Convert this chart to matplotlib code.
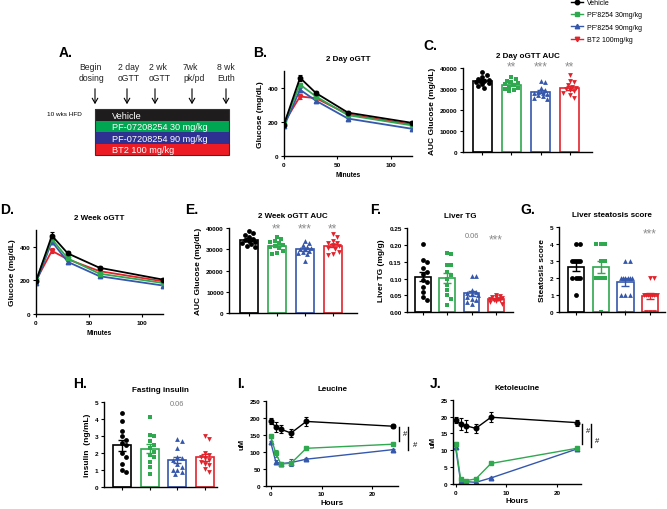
import matplotlib
matplotlib.use('Agg')
import matplotlib.pyplot as plt
import numpy as np
from matplotlib.lines import Line2D
from matplotlib.patches import Rectangle

plt.rcParams['font.family'] = ['Liberation Sans', 'DejaVu Sans']
plt.rcParams['font.weight'] = 'bold'
plt.rcParams['axes.labelweight'] = 'bold'
plt.rcParams['axes.titleweight'] = 'bold'

# ---------------- data ----------------
GROUPS = ["Vehicle", "PF'8254 30mg/kg", "PF'8254 90mg/kg", "BT2 100mg/kg"]
SCHEME_GROUPS = ["Vehicle", "PF-07208254 30 mg/kg", "PF-07208254 90 mg/kg", "BT2 100 mg/kg"]
TIMELINE = ["Begin\ndosing", "2 day\noGTT", "2 wk\noGTT", "7wk\npk/pd", "8 wk\nEuth"]

GTT_T = [0, 15, 30, 60, 120]
# 2 day oGTT
B_veh = [185, 460, 370, 255, 195]
B_g30 = [190, 420, 350, 240, 180]
B_g90 = [175, 390, 325, 220, 160]
B_bt2 = [195, 350, 340, 245, 185]
B_err_veh = [8, 18, 12, 8, 9]
B_err_g30 = [6, 12, 10, 6, 6]
B_err_g90 = [6, 12, 8, 6, 6]
B_err_bt2 = [6, 12, 10, 6, 6]
# 2 week oGTT
D_veh = [195, 465, 360, 275, 205]
D_g30 = [200, 445, 330, 240, 185]
D_g90 = [185, 430, 310, 225, 170]
D_bt2 = [200, 375, 325, 255, 195]
D_err_veh = [8, 22, 12, 8, 8]
D_err_g30 = [6, 14, 10, 6, 6]
D_err_g90 = [6, 14, 8, 6, 6]
D_err_bt2 = [6, 14, 10, 6, 6]

# 2 day AUC
C_veh = [38000, 36500, 35500, 34500, 34000, 34000, 33500, 33000, 32500, 31500, 30500, 35000]
C_g30 = [35500, 35000, 34000, 33500, 33000, 32500, 32000, 31000, 30500, 30000, 29000, 29500]
C_g90 = [34000, 33500, 30500, 29500, 28500, 28000, 27500, 27000, 26500, 26000, 25500, 28000]
C_bt2 = [36500, 34000, 33500, 32000, 31000, 30500, 30000, 29500, 29000, 28000, 27000, 26000]
C_sig = ["", "**", "***", "**"]
# 2 week AUC
E_veh = [38500, 38000, 37000, 36000, 35000, 34500, 34000, 33500, 33000, 32500, 31500, 31000]
E_g30 = [36000, 35000, 34000, 33500, 33000, 32000, 31500, 31000, 30500, 29500, 28500, 28000]
E_g90 = [34000, 33000, 32000, 31000, 30500, 30000, 30000, 29500, 29000, 28500, 28000, 24500]
E_bt2 = [37500, 36000, 34000, 33000, 33000, 32000, 31500, 30500, 30000, 29000, 28000, 27500]
E_sig = ["", "**", "***", "**"]
# Liver TG
F_veh = [0.202, 0.155, 0.150, 0.130, 0.120, 0.115, 0.095, 0.090, 0.075, 0.060, 0.045, 0.035]
F_g30 = [0.175, 0.172, 0.140, 0.140, 0.120, 0.110, 0.100, 0.080, 0.065, 0.050, 0.040, 0.022]
F_g90 = [0.108, 0.107, 0.065, 0.060, 0.058, 0.055, 0.050, 0.045, 0.040, 0.035, 0.030, 0.025]
F_bt2 = [0.052, 0.048, 0.045, 0.044, 0.042, 0.040, 0.038, 0.036, 0.035, 0.033, 0.030, 0.025]
F_sig = ["", "", "0.06", "***"]
# Steatosis
G_veh = [4, 4, 3, 3, 3, 3, 3, 2, 2, 2, 2, 1]
G_g30 = [4, 4, 4, 4, 3, 3, 2, 2, 2, 2, 2, 0]
G_g90 = [3, 3, 2, 2, 2, 2, 2, 2, 1, 1, 1, 0]
G_bt2 = [2, 2, 1, 1, 1, 1, 1, 1, 1, 0, 0, 0]
G_sig = ["", "", "", "***"]
# Fasting insulin
H_veh = [4.4, 3.9, 3.3, 3.0, 2.8, 2.6, 2.5, 2.0, 1.8, 1.4, 1.0, 0.9]
H_g30 = [4.15, 3.1, 3.0, 2.7, 2.5, 2.3, 2.1, 1.9, 1.8, 1.5, 1.2, 0.8]
H_g90 = [2.85, 2.7, 2.3, 1.8, 1.7, 1.6, 1.4, 1.2, 1.0, 1.0, 0.9, 0.8]
H_bt2 = [3.0, 2.85, 2.0, 1.9, 1.8, 1.7, 1.6, 1.5, 1.4, 1.3, 1.1, 0.9]
H_sig = ["", "", "0.06", ""]

PK_T = [0, 1, 2, 4, 7, 24]
I_veh = [190, 172, 166, 155, 189, 175]
I_g30 = [145, 95, 64, 66, 110, 122]
I_g90 = [128, 70, 65, 68, 78, 106]
I_err_veh = [8, 14, 12, 12, 12, 6]
I_err_g30 = [4, 10, 4, 4, 4, 3]
I_err_g90 = [4, 6, 3, 10, 3, 3]
J_veh = [19.0, 17.8, 17.3, 16.5, 19.8, 18.2]
J_g30 = [11.8, 1.5, 1.0, 1.5, 6.1, 10.6]
J_g90 = [11.0, 0.8, 0.7, 0.5, 1.8, 10.4]
J_err_veh = [1.0, 1.8, 1.8, 1.4, 1.5, 0.9]
J_err_g30 = [0.6, 0.3, 0.3, 0.3, 0.3, 0.4]
J_err_g90 = [0.4, 0.3, 0.3, 0.3, 0.3, 0.3]

COLORS = ['#000000', '#2fa84f', '#3558ad', '#e3232c']
SCHEME_COLORS = ['#1e1c1d', '#00a651', '#2e3192', '#ed1c24']
MARKERS = ['o', 's', '^', 'v']

# ---------------- figure ----------------
W, H = 667, 510
fig = plt.figure(figsize=(W / 100, H / 100), dpi=100)

ov = fig.add_axes([0, 0, 1, 1])
ov.set_xlim(0, W)
ov.set_ylim(H, 0)
ov.axis('off')


def px_axes(x0, x1, ytop, ybot):
    return fig.add_axes([x0 / W, 1 - ybot / H, (x1 - x0) / W, (ybot - ytop) / H])


def style(ax):
    for s in ['top', 'right']:
        ax.spines[s].set_visible(False)
    for s in ['left', 'bottom']:
        ax.spines[s].set_linewidth(1.0)
    ax.tick_params(length=2.5, width=0.8, labelsize=4.6, pad=1.5)


def swarm(ax, x0, vals, d_px, max_off):
    tr = ax.transData
    sx = tr.transform((1, 0))[0] - tr.transform((0, 0))[0]
    max_px = max_off * sx
    order = np.argsort(vals)[::-1]
    placed = []
    offs = np.zeros(len(vals))
    step = d_px * 0.5
    cands = [0.0]
    k = 1
    while k * step <= max_px:
        cands += [k * step, -k * step]
        k += 1
    for idx in order:
        ypx = tr.transform((x0, vals[idx]))[1]
        best, bestd = 0.0, -1
        for cand in cands:
            dmin = min([np.hypot(cand - px, ypx - py) for px, py in placed] + [1e9])
            if dmin >= d_px:
                best = cand
                break
            if dmin > bestd:
                best, bestd = cand, dmin
        placed.append((best, ypx))
        offs[idx] = best / sx
    return offs


def bar_panel(ax, groups, ylim, yticks, xlim, title, ylabel, sig, sig_y, fmt=None):
    style(ax)
    ax.set_xlim(*xlim)
    ax.set_ylim(*ylim)
    for i, (vals, c, m) in enumerate(zip(groups, COLORS, MARKERS)):
        v = np.array(vals, dtype=float)
        mean = v.mean()
        sem = v.std(ddof=1) / np.sqrt(len(v))
        ax.bar(i, mean, width=0.65, facecolor='white', edgecolor=c, linewidth=1.2, zorder=1)
        offs = swarm(ax, i, v, 4.3, 0.27)
        ax.scatter(i + offs, v, marker=m, s=12, color=c, zorder=2, linewidths=0)
        ax.errorbar(i, mean, yerr=sem, color=c, capsize=2.6, elinewidth=1.0, capthick=1.0, zorder=3)
        if sig[i]:
            if sig[i][0].isdigit():
                ax.text(i, sig_y[0], sig[i], ha='center', va='center', color='#7a7a7a',
                        fontsize=5.3, fontweight='normal', clip_on=False)
            else:
                ax.text(i, sig_y[1], sig[i], ha='center', va='baseline', color='#8c8c8c',
                        fontsize=8.5, fontweight='normal', clip_on=False)
    ax.set_xticks(range(len(groups)))
    ax.set_xticklabels([])
    ax.set_yticks(yticks)
    if fmt:
        ax.set_yticklabels([fmt.format(t) for t in yticks])
    ax.set_title(title, fontsize=5.8, pad=8)
    ax.set_ylabel(ylabel, fontsize=6, labelpad=3)


def gtt_panel(ax, series, errs, title):
    style(ax)
    for k in [3, 2, 1, 0]:
        ax.errorbar(GTT_T, series[k], yerr=errs[k], color=COLORS[k], marker=MARKERS[k], ms=3.2,
                    lw=1.3, capsize=1.5, elinewidth=0.8, capthick=0.8)
    ax.set_xlim(0, 120)
    ax.set_ylim(0, 500)
    ax.set_yticks([0, 200, 400])
    ax.set_xticks([0, 50, 100])
    ax.set_title(title, fontsize=5.8, pad=8)
    ax.set_ylabel('Glucose (mg/dL)', fontsize=6, labelpad=3)
    ax.set_xlabel('Minutes', fontsize=4.8, labelpad=3)


def pk_panel(ax, series, errs, title, ylim, yticks, xlim):
    style(ax)
    for k in [2, 1, 0]:
        ax.errorbar(PK_T, series[k], yerr=errs[k], color=COLORS[k], marker=MARKERS[k], ms=3.3,
                    lw=1.0, capsize=1.5, elinewidth=0.8, capthick=0.8)
    ax.set_xlim(*xlim)
    ax.set_ylim(*ylim)
    ax.set_yticks(yticks)
    ax.set_xticks([0, 10, 20])
    ax.set_title(title, fontsize=5.8, pad=8)
    ax.set_ylabel('uM', fontsize=5.5, labelpad=3)
    ax.set_xlabel('Hours', fontsize=5.8, labelpad=2)


# ---------- Panel A schematic ----------
arrow_x = [95, 127, 155, 192, 226]
text_x = [79, 118, 149, 183, 217]
for lab, tx, ax_ in zip(TIMELINE, text_x, arrow_x):
    ov.text(tx, 63, lab, ha='left', va='top', fontsize=6.2, fontweight='normal',
            linespacing=1.3, color='#222222')
    ov.annotate('', xy=(ax_, 108), xytext=(ax_, 87),
                arrowprops=dict(arrowstyle='->,head_length=0.35,head_width=0.2', lw=0.8, color='black'))
row_h = 11.5
for i, (lab, c) in enumerate(zip(SCHEME_GROUPS, SCHEME_COLORS)):
    y0 = 110 + i * row_h
    ov.add_patch(Rectangle((95, y0), 134, row_h, facecolor=c, edgecolor='none'))
    ov.text(111.5, y0 + row_h / 2 + 0.3, lab, ha='left', va='center', color='white',
            fontsize=6.6, fontweight='normal')
ov.add_patch(Rectangle((95, 110), 134, 4 * row_h, facecolor='none', edgecolor='#333333', lw=0.8))
ov.text(47, 114.5, '10 wks HFD', ha='left', va='center', fontsize=4.6, fontweight='normal')

# ---------- panel letters ----------
for lab, x, y in [('A.', 59, 46), ('B.', 253, 46), ('C.', 423, 39), ('D.', 0, 203), ('E.', 185, 203),
                  ('F.', 370, 203), ('G.', 520, 203), ('H.', 73, 377), ('I.', 237, 377), ('J.', 430, 377)]:
    fig.text(x / W, 1 - y / H, lab, fontsize=10, fontweight='bold', ha='left', va='top')

# ---------- B ----------
axB = px_axes(284, 412, 72, 157)
gtt_panel(axB, [B_veh, B_g30, B_g90, B_bt2], [B_err_veh, B_err_g30, B_err_g90, B_err_bt2], '2 Day oGTT')

# ---------- C ----------
axC = px_axes(463, 592, 69, 153.3)
bar_panel(axC, [C_veh, C_g30, C_g90, C_bt2], (0, 40000), [0, 10000, 20000, 30000, 40000],
          (-0.66, 3.76), '2 Day oGTT AUC', 'AUC Glucose (mg/dL)', C_sig, (0, 39400))

# ---------- D ----------
axD = px_axes(36, 163, 230.7, 315.3)
gtt_panel(axD, [D_veh, D_g30, D_g90, D_bt2], [D_err_veh, D_err_g30, D_err_g90, D_err_bt2], '2 Week oGTT')

# ---------- E ----------
axE = px_axes(229.3, 356.7, 229.3, 314)
bar_panel(axE, [E_veh, E_g30, E_g90, E_bt2], (0, 40000), [0, 10000, 20000, 30000, 40000],
          (-0.7, 3.86), '2 Week oGTT AUC', 'AUC Glucose (mg/dL)', E_sig, (0, 38700))

# ---------- F ----------
axF = px_axes(407.3, 513.3, 229, 313.3)
bar_panel(axF, [F_veh, F_g30, F_g90, F_bt2], (0, 0.25), [0, 0.05, 0.10, 0.15, 0.20, 0.25],
          (-0.63, 3.71), 'Liver TG', 'Liver TG (mg/g)', F_sig, (0.229, 0.208), fmt='{:.2f}')

# ---------- G ----------
axG = px_axes(559.3, 665, 228.3, 312.7)
bar_panel(axG, [G_veh, G_g30, G_g90, G_bt2], (0, 5), [0, 1, 2, 3, 4, 5],
          (-0.68, 3.6), 'Liver steatosis score', 'Steatosis score', G_sig, (4.9, 4.48))

# ---------- H ----------
axH = px_axes(104, 217, 403.3, 488.3)
bar_panel(axH, [H_veh, H_g30, H_g90, H_bt2], (0, 5), [0, 1, 2, 3, 4, 5],
          (-0.64, 3.43), 'Fasting insulin', 'insulin  (ng/mL)', H_sig, (4.9, 4.5))

# ---------- I ----------
axI = px_axes(266, 398.3, 401.7, 486.7)
pk_panel(axI, [I_veh, I_g30, I_g90], [I_err_veh, I_err_g30, I_err_g90], 'Leucine',
         (0, 250), [0, 50, 100, 150, 200, 250], (-0.93, 25.1))
axI.plot([25.2, 25.2], [172, 132], color='black', lw=1.0, clip_on=False)
axI.text(26.1, 153, '#', fontsize=5.5, fontweight='normal', ha='left', va='center', clip_on=False)
axI.plot([27.1, 27.1], [172, 106], color='black', lw=1.0, clip_on=False)
axI.text(28.0, 122, '#', fontsize=5.5, fontweight='normal', ha='left', va='center', clip_on=False)

# ---------- J ----------
axJ = px_axes(453, 580.7, 400.7, 485)
pk_panel(axJ, [J_veh, J_g30, J_g90], [J_err_veh, J_err_g30, J_err_g90], 'Ketoleucine',
         (0, 25), [0, 5, 10, 15, 20, 25], (-0.5, 24.7))
axJ.plot([24.9, 24.9], [17.8, 11.9], color='black', lw=1.0, clip_on=False)
axJ.text(25.7, 16, '#', fontsize=5.5, fontweight='normal', ha='left', va='center', clip_on=False)
axJ.plot([26.7, 26.7], [17.8, 10.9], color='black', lw=1.0, clip_on=False)
axJ.text(27.5, 13, '#', fontsize=5.5, fontweight='normal', ha='left', va='center', clip_on=False)

# ---------- legend ----------
handles = [Line2D([], [], color=c, marker=m, ms=3.2, lw=1.0) for c, m in zip(COLORS, MARKERS)]
fig.legend(handles, GROUPS, loc='upper left', bbox_to_anchor=(571 / W, 1.0), frameon=False,
           borderpad=0, borderaxespad=0, handlelength=1.7, handletextpad=0.6, labelspacing=0.78,
           prop={'size': 5, 'weight': 'normal'})

fig.savefig('out.png', dpi=100)
